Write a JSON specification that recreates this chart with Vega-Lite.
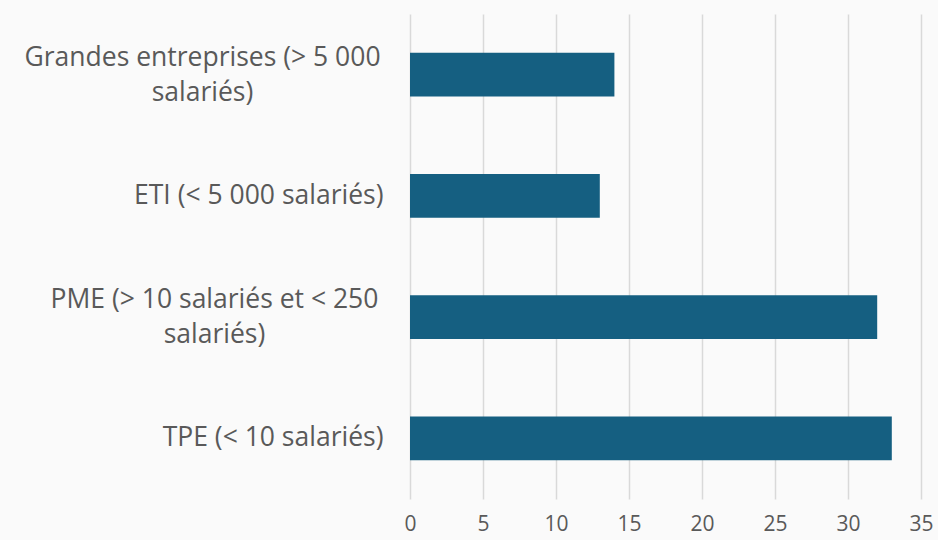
{
  "$schema": "https://vega.github.io/schema/vega-lite/v6.json",
  "autosize": "none",
  "padding": {"left": 410, "top": 14, "right": 17, "bottom": 41},
  "width": 511,
  "height": 485,
  "background": "#fafafa",
  "config": {"view": {"stroke": null}, "font": "Open Sans"},
  "data": {
    "values": [
      {"categorie": "Grandes entreprises (> 5 000 salariés)", "valeur": 14},
      {"categorie": "ETI (< 5 000 salariés)", "valeur": 13},
      {"categorie": "PME (> 10 salariés et < 250 salariés)", "valeur": 32},
      {"categorie": "TPE (< 10 salariés)", "valeur": 33}
    ]
  },
  "mark": {"type": "bar", "color": "#155f81"},
  "encoding": {
    "y": {
      "field": "categorie",
      "type": "nominal",
      "sort": null,
      "scale": {"paddingInner": 0.64, "paddingOuter": 0.32},
      "axis": {
        "title": null,
        "domain": false,
        "ticks": false,
        "labelFontSize": 26.5,
        "labelColor": "#595959",
        "labelLimit": 500,
        "labelLineHeight": 35,
        "labelAlign": {"condition": {"test": "indexof(datum.value, 'Grandes') >= 0 || indexof(datum.value, 'PME') >= 0", "value": "center"}, "value": "right"},
        "labelPadding": {"condition": [{"test": "indexof(datum.value, 'Grandes') >= 0", "value": 208}, {"test": "indexof(datum.value, 'PME') >= 0", "value": 196}], "value": 27},
        "labelOffset": {"condition": {"test": "indexof(datum.value, 'Grandes') >= 0 || indexof(datum.value, 'PME') >= 0", "value": -17}, "value": 0},
        "labelExpr": "datum.label == 'Grandes entreprises (> 5 000 salariés)' ? ['Grandes entreprises (> 5 000', 'salariés)'] : datum.label == 'PME (> 10 salariés et < 250 salariés)' ? ['PME (> 10 salariés et < 250', 'salariés)'] : datum.label"
      }
    },
    "x": {
      "field": "valeur",
      "type": "quantitative",
      "scale": {"domain": [0, 35], "nice": false},
      "axis": {
        "title": null,
        "values": [0, 5, 10, 15, 20, 25, 30, 35],
        "domain": false,
        "ticks": false,
        "grid": true,
        "gridColor": "#d9d9d9",
        "gridWidth": 1.5,
        "labelPadding": 14,
        "labelFontSize": 21,
        "labelColor": "#595959",
        "labelFlush": false
      }
    }
  }
}
